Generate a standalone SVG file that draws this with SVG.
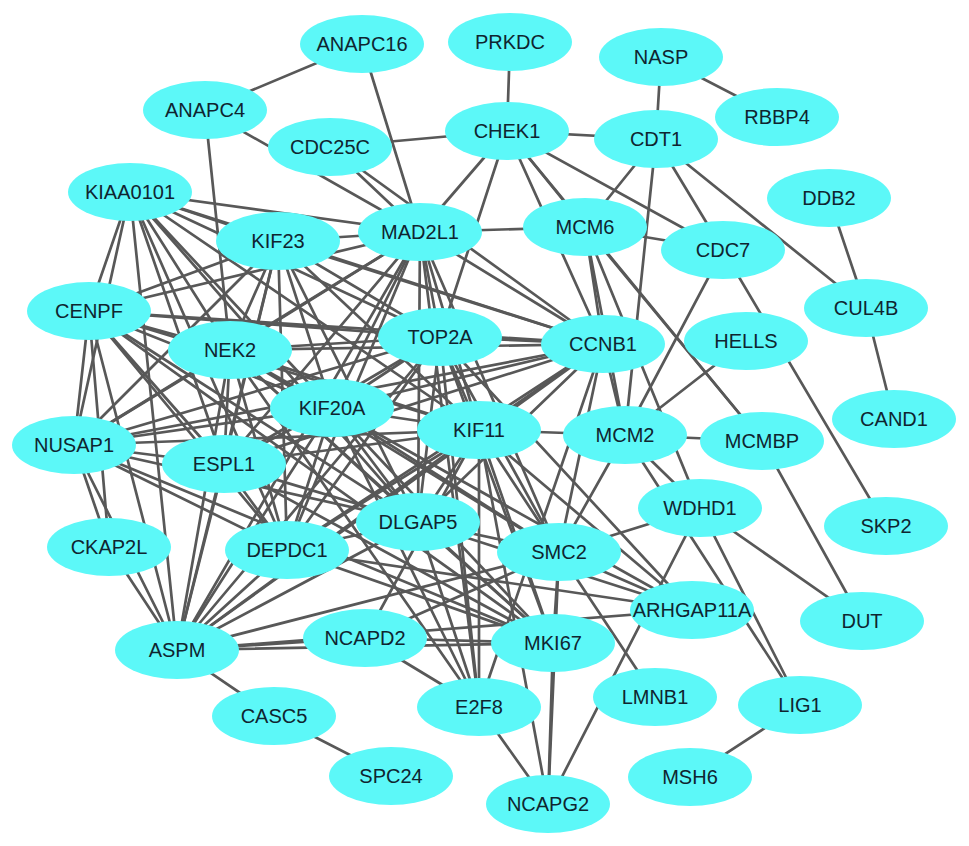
<svg xmlns="http://www.w3.org/2000/svg" width="969" height="846" viewBox="0 0 969 846">
<style>
.bg{fill:#ffffff}
.e line{stroke:#585858;stroke-width:2.7;stroke-linecap:round}
.n ellipse{fill:#5cf8f8}
.n text{font-family:"Liberation Sans",Arial,sans-serif;font-size:20px;fill:#0f2530;text-anchor:middle}
</style>
<rect class="bg" x="0" y="0" width="969" height="846"/>
<g id="connectors" class="e">
<line x1="362" y1="44" x2="205" y2="110"/>
<line x1="362" y1="44" x2="420" y2="232"/>
<line x1="205" y1="110" x2="420" y2="232"/>
<line x1="205" y1="110" x2="230" y2="350"/>
<line x1="330" y1="147" x2="420" y2="232"/>
<line x1="330" y1="147" x2="507" y2="131"/>
<line x1="330" y1="147" x2="603" y2="344"/>
<line x1="510" y1="42" x2="507" y2="131"/>
<line x1="507" y1="131" x2="420" y2="232"/>
<line x1="507" y1="131" x2="440" y2="337"/>
<line x1="507" y1="131" x2="585" y2="227"/>
<line x1="507" y1="131" x2="603" y2="344"/>
<line x1="507" y1="131" x2="656" y2="139"/>
<line x1="507" y1="131" x2="723" y2="250"/>
<line x1="507" y1="131" x2="762" y2="441"/>
<line x1="661" y1="57" x2="656" y2="139"/>
<line x1="661" y1="57" x2="777" y2="117"/>
<line x1="656" y1="139" x2="585" y2="227"/>
<line x1="656" y1="139" x2="723" y2="250"/>
<line x1="656" y1="139" x2="866" y2="308"/>
<line x1="656" y1="139" x2="625" y2="435"/>
<line x1="829" y1="198" x2="866" y2="308"/>
<line x1="866" y1="308" x2="894" y2="419"/>
<line x1="420" y1="232" x2="585" y2="227"/>
<line x1="585" y1="227" x2="723" y2="250"/>
<line x1="585" y1="227" x2="762" y2="441"/>
<line x1="585" y1="227" x2="625" y2="435"/>
<line x1="585" y1="227" x2="700" y2="508"/>
<line x1="585" y1="227" x2="603" y2="344"/>
<line x1="723" y1="250" x2="625" y2="435"/>
<line x1="723" y1="250" x2="886" y2="526"/>
<line x1="746" y1="341" x2="625" y2="435"/>
<line x1="625" y1="435" x2="762" y2="441"/>
<line x1="625" y1="435" x2="479" y2="430"/>
<line x1="625" y1="435" x2="603" y2="344"/>
<line x1="625" y1="435" x2="700" y2="508"/>
<line x1="625" y1="435" x2="800" y2="705"/>
<line x1="625" y1="435" x2="559" y2="552"/>
<line x1="762" y1="441" x2="862" y2="621"/>
<line x1="700" y1="508" x2="862" y2="621"/>
<line x1="700" y1="508" x2="800" y2="705"/>
<line x1="700" y1="508" x2="559" y2="552"/>
<line x1="700" y1="508" x2="548" y2="804"/>
<line x1="800" y1="705" x2="690" y2="777"/>
<line x1="559" y1="552" x2="655" y2="697"/>
<line x1="559" y1="552" x2="548" y2="804"/>
<line x1="559" y1="552" x2="553" y2="643"/>
<line x1="559" y1="552" x2="692" y2="610"/>
<line x1="559" y1="552" x2="479" y2="430"/>
<line x1="559" y1="552" x2="440" y2="337"/>
<line x1="559" y1="552" x2="603" y2="344"/>
<line x1="559" y1="552" x2="418" y2="522"/>
<line x1="559" y1="552" x2="332" y2="408"/>
<line x1="559" y1="552" x2="420" y2="232"/>
<line x1="559" y1="552" x2="230" y2="350"/>
<line x1="559" y1="552" x2="177" y2="650"/>
<line x1="559" y1="552" x2="365" y2="638"/>
<line x1="553" y1="643" x2="548" y2="804"/>
<line x1="553" y1="643" x2="365" y2="638"/>
<line x1="553" y1="643" x2="177" y2="650"/>
<line x1="553" y1="643" x2="287" y2="550"/>
<line x1="553" y1="643" x2="224" y2="464"/>
<line x1="553" y1="643" x2="74" y2="445"/>
<line x1="553" y1="643" x2="89" y2="311"/>
<line x1="553" y1="643" x2="230" y2="350"/>
<line x1="553" y1="643" x2="332" y2="408"/>
<line x1="553" y1="643" x2="418" y2="522"/>
<line x1="553" y1="643" x2="479" y2="430"/>
<line x1="553" y1="643" x2="440" y2="337"/>
<line x1="479" y1="707" x2="548" y2="804"/>
<line x1="479" y1="707" x2="365" y2="638"/>
<line x1="479" y1="707" x2="332" y2="408"/>
<line x1="479" y1="707" x2="479" y2="430"/>
<line x1="479" y1="707" x2="440" y2="337"/>
<line x1="479" y1="707" x2="420" y2="232"/>
<line x1="479" y1="707" x2="418" y2="522"/>
<line x1="479" y1="707" x2="603" y2="344"/>
<line x1="479" y1="707" x2="230" y2="350"/>
<line x1="548" y1="804" x2="479" y2="430"/>
<line x1="365" y1="638" x2="479" y2="430"/>
<line x1="365" y1="638" x2="177" y2="650"/>
<line x1="692" y1="610" x2="479" y2="430"/>
<line x1="692" y1="610" x2="332" y2="408"/>
<line x1="692" y1="610" x2="418" y2="522"/>
<line x1="692" y1="610" x2="287" y2="550"/>
<line x1="692" y1="610" x2="177" y2="650"/>
<line x1="692" y1="610" x2="440" y2="337"/>
<line x1="177" y1="650" x2="274" y2="716"/>
<line x1="274" y1="716" x2="391" y2="776"/>
<line x1="109" y1="547" x2="177" y2="650"/>
<line x1="109" y1="547" x2="74" y2="445"/>
<line x1="109" y1="547" x2="89" y2="311"/>
<line x1="130" y1="192" x2="278" y2="241"/>
<line x1="130" y1="192" x2="420" y2="232"/>
<line x1="130" y1="192" x2="89" y2="311"/>
<line x1="130" y1="192" x2="230" y2="350"/>
<line x1="130" y1="192" x2="440" y2="337"/>
<line x1="130" y1="192" x2="603" y2="344"/>
<line x1="130" y1="192" x2="332" y2="408"/>
<line x1="130" y1="192" x2="479" y2="430"/>
<line x1="130" y1="192" x2="74" y2="445"/>
<line x1="130" y1="192" x2="224" y2="464"/>
<line x1="130" y1="192" x2="418" y2="522"/>
<line x1="130" y1="192" x2="287" y2="550"/>
<line x1="130" y1="192" x2="177" y2="650"/>
<line x1="278" y1="241" x2="420" y2="232"/>
<line x1="278" y1="241" x2="89" y2="311"/>
<line x1="278" y1="241" x2="230" y2="350"/>
<line x1="278" y1="241" x2="440" y2="337"/>
<line x1="278" y1="241" x2="603" y2="344"/>
<line x1="278" y1="241" x2="332" y2="408"/>
<line x1="278" y1="241" x2="479" y2="430"/>
<line x1="278" y1="241" x2="74" y2="445"/>
<line x1="278" y1="241" x2="224" y2="464"/>
<line x1="278" y1="241" x2="418" y2="522"/>
<line x1="278" y1="241" x2="287" y2="550"/>
<line x1="278" y1="241" x2="177" y2="650"/>
<line x1="420" y1="232" x2="89" y2="311"/>
<line x1="420" y1="232" x2="230" y2="350"/>
<line x1="420" y1="232" x2="440" y2="337"/>
<line x1="420" y1="232" x2="603" y2="344"/>
<line x1="420" y1="232" x2="332" y2="408"/>
<line x1="420" y1="232" x2="479" y2="430"/>
<line x1="420" y1="232" x2="74" y2="445"/>
<line x1="420" y1="232" x2="224" y2="464"/>
<line x1="420" y1="232" x2="418" y2="522"/>
<line x1="420" y1="232" x2="287" y2="550"/>
<line x1="420" y1="232" x2="177" y2="650"/>
<line x1="89" y1="311" x2="230" y2="350"/>
<line x1="89" y1="311" x2="440" y2="337"/>
<line x1="89" y1="311" x2="603" y2="344"/>
<line x1="89" y1="311" x2="332" y2="408"/>
<line x1="89" y1="311" x2="479" y2="430"/>
<line x1="89" y1="311" x2="74" y2="445"/>
<line x1="89" y1="311" x2="224" y2="464"/>
<line x1="89" y1="311" x2="418" y2="522"/>
<line x1="89" y1="311" x2="287" y2="550"/>
<line x1="89" y1="311" x2="177" y2="650"/>
<line x1="230" y1="350" x2="440" y2="337"/>
<line x1="230" y1="350" x2="603" y2="344"/>
<line x1="230" y1="350" x2="332" y2="408"/>
<line x1="230" y1="350" x2="479" y2="430"/>
<line x1="230" y1="350" x2="74" y2="445"/>
<line x1="230" y1="350" x2="224" y2="464"/>
<line x1="230" y1="350" x2="418" y2="522"/>
<line x1="230" y1="350" x2="287" y2="550"/>
<line x1="230" y1="350" x2="177" y2="650"/>
<line x1="440" y1="337" x2="603" y2="344"/>
<line x1="440" y1="337" x2="332" y2="408"/>
<line x1="440" y1="337" x2="479" y2="430"/>
<line x1="440" y1="337" x2="74" y2="445"/>
<line x1="440" y1="337" x2="224" y2="464"/>
<line x1="440" y1="337" x2="418" y2="522"/>
<line x1="440" y1="337" x2="287" y2="550"/>
<line x1="440" y1="337" x2="177" y2="650"/>
<line x1="603" y1="344" x2="332" y2="408"/>
<line x1="603" y1="344" x2="479" y2="430"/>
<line x1="603" y1="344" x2="74" y2="445"/>
<line x1="603" y1="344" x2="224" y2="464"/>
<line x1="603" y1="344" x2="418" y2="522"/>
<line x1="603" y1="344" x2="287" y2="550"/>
<line x1="603" y1="344" x2="177" y2="650"/>
<line x1="332" y1="408" x2="479" y2="430"/>
<line x1="332" y1="408" x2="74" y2="445"/>
<line x1="332" y1="408" x2="224" y2="464"/>
<line x1="332" y1="408" x2="418" y2="522"/>
<line x1="332" y1="408" x2="287" y2="550"/>
<line x1="332" y1="408" x2="177" y2="650"/>
<line x1="479" y1="430" x2="74" y2="445"/>
<line x1="479" y1="430" x2="224" y2="464"/>
<line x1="479" y1="430" x2="418" y2="522"/>
<line x1="479" y1="430" x2="287" y2="550"/>
<line x1="479" y1="430" x2="177" y2="650"/>
<line x1="74" y1="445" x2="224" y2="464"/>
<line x1="74" y1="445" x2="418" y2="522"/>
<line x1="74" y1="445" x2="287" y2="550"/>
<line x1="74" y1="445" x2="177" y2="650"/>
<line x1="224" y1="464" x2="418" y2="522"/>
<line x1="224" y1="464" x2="287" y2="550"/>
<line x1="224" y1="464" x2="177" y2="650"/>
<line x1="418" y1="522" x2="287" y2="550"/>
<line x1="418" y1="522" x2="177" y2="650"/>
<line x1="287" y1="550" x2="177" y2="650"/>
</g>
<g id="ANAPC16" class="n"><ellipse cx="362" cy="44" rx="62" ry="29"/><text x="362" y="51">ANAPC16</text></g>
<g id="PRKDC" class="n"><ellipse cx="510" cy="42" rx="62" ry="29"/><text x="510" y="49">PRKDC</text></g>
<g id="NASP" class="n"><ellipse cx="661" cy="57" rx="62" ry="29"/><text x="661" y="64">NASP</text></g>
<g id="RBBP4" class="n"><ellipse cx="777" cy="117" rx="62" ry="29"/><text x="777" y="124">RBBP4</text></g>
<g id="ANAPC4" class="n"><ellipse cx="205" cy="110" rx="62" ry="29"/><text x="205" y="117">ANAPC4</text></g>
<g id="CDC25C" class="n"><ellipse cx="330" cy="147" rx="62" ry="29"/><text x="330" y="154">CDC25C</text></g>
<g id="CHEK1" class="n"><ellipse cx="507" cy="131" rx="62" ry="29"/><text x="507" y="138">CHEK1</text></g>
<g id="CDT1" class="n"><ellipse cx="656" cy="139" rx="62" ry="29"/><text x="656" y="146">CDT1</text></g>
<g id="DDB2" class="n"><ellipse cx="829" cy="198" rx="62" ry="29"/><text x="829" y="205">DDB2</text></g>
<g id="KIAA0101" class="n"><ellipse cx="130" cy="192" rx="62" ry="29"/><text x="130" y="199">KIAA0101</text></g>
<g id="MAD2L1" class="n"><ellipse cx="420" cy="232" rx="62" ry="29"/><text x="420" y="239">MAD2L1</text></g>
<g id="MCM6" class="n"><ellipse cx="585" cy="227" rx="62" ry="29"/><text x="585" y="234">MCM6</text></g>
<g id="CDC7" class="n"><ellipse cx="723" cy="250" rx="62" ry="29"/><text x="723" y="257">CDC7</text></g>
<g id="KIF23" class="n"><ellipse cx="278" cy="241" rx="62" ry="29"/><text x="278" y="248">KIF23</text></g>
<g id="CUL4B" class="n"><ellipse cx="866" cy="308" rx="62" ry="29"/><text x="866" y="315">CUL4B</text></g>
<g id="CENPF" class="n"><ellipse cx="89" cy="311" rx="62" ry="29"/><text x="89" y="318">CENPF</text></g>
<g id="TOP2A" class="n"><ellipse cx="440" cy="337" rx="62" ry="29"/><text x="440" y="344">TOP2A</text></g>
<g id="CCNB1" class="n"><ellipse cx="603" cy="344" rx="62" ry="29"/><text x="603" y="351">CCNB1</text></g>
<g id="HELLS" class="n"><ellipse cx="746" cy="341" rx="62" ry="29"/><text x="746" y="348">HELLS</text></g>
<g id="NEK2" class="n"><ellipse cx="230" cy="350" rx="62" ry="29"/><text x="230" y="357">NEK2</text></g>
<g id="KIF20A" class="n"><ellipse cx="332" cy="408" rx="62" ry="29"/><text x="332" y="415">KIF20A</text></g>
<g id="KIF11" class="n"><ellipse cx="479" cy="430" rx="62" ry="29"/><text x="479" y="437">KIF11</text></g>
<g id="MCM2" class="n"><ellipse cx="625" cy="435" rx="62" ry="29"/><text x="625" y="442">MCM2</text></g>
<g id="MCMBP" class="n"><ellipse cx="762" cy="441" rx="62" ry="29"/><text x="762" y="448">MCMBP</text></g>
<g id="CAND1" class="n"><ellipse cx="894" cy="419" rx="62" ry="29"/><text x="894" y="426">CAND1</text></g>
<g id="NUSAP1" class="n"><ellipse cx="74" cy="445" rx="62" ry="29"/><text x="74" y="452">NUSAP1</text></g>
<g id="ESPL1" class="n"><ellipse cx="224" cy="464" rx="62" ry="29"/><text x="224" y="471">ESPL1</text></g>
<g id="WDHD1" class="n"><ellipse cx="700" cy="508" rx="62" ry="29"/><text x="700" y="515">WDHD1</text></g>
<g id="DLGAP5" class="n"><ellipse cx="418" cy="522" rx="62" ry="29"/><text x="418" y="529">DLGAP5</text></g>
<g id="SMC2" class="n"><ellipse cx="559" cy="552" rx="62" ry="29"/><text x="559" y="559">SMC2</text></g>
<g id="DEPDC1" class="n"><ellipse cx="287" cy="550" rx="62" ry="29"/><text x="287" y="557">DEPDC1</text></g>
<g id="CKAP2L" class="n"><ellipse cx="109" cy="547" rx="62" ry="29"/><text x="109" y="554">CKAP2L</text></g>
<g id="SKP2" class="n"><ellipse cx="886" cy="526" rx="62" ry="29"/><text x="886" y="533">SKP2</text></g>
<g id="ARHGAP11A" class="n"><ellipse cx="692" cy="610" rx="62" ry="29"/><text x="692" y="617">ARHGAP11A</text></g>
<g id="DUT" class="n"><ellipse cx="862" cy="621" rx="62" ry="29"/><text x="862" y="628">DUT</text></g>
<g id="ASPM" class="n"><ellipse cx="177" cy="650" rx="62" ry="29"/><text x="177" y="657">ASPM</text></g>
<g id="NCAPD2" class="n"><ellipse cx="365" cy="638" rx="62" ry="29"/><text x="365" y="645">NCAPD2</text></g>
<g id="MKI67" class="n"><ellipse cx="553" cy="643" rx="62" ry="29"/><text x="553" y="650">MKI67</text></g>
<g id="LMNB1" class="n"><ellipse cx="655" cy="697" rx="62" ry="29"/><text x="655" y="704">LMNB1</text></g>
<g id="LIG1" class="n"><ellipse cx="800" cy="705" rx="62" ry="29"/><text x="800" y="712">LIG1</text></g>
<g id="E2F8" class="n"><ellipse cx="479" cy="707" rx="62" ry="29"/><text x="479" y="714">E2F8</text></g>
<g id="CASC5" class="n"><ellipse cx="274" cy="716" rx="62" ry="29"/><text x="274" y="723">CASC5</text></g>
<g id="MSH6" class="n"><ellipse cx="690" cy="777" rx="62" ry="29"/><text x="690" y="784">MSH6</text></g>
<g id="SPC24" class="n"><ellipse cx="391" cy="776" rx="62" ry="29"/><text x="391" y="783">SPC24</text></g>
<g id="NCAPG2" class="n"><ellipse cx="548" cy="804" rx="62" ry="29"/><text x="548" y="811">NCAPG2</text></g>
</svg>
